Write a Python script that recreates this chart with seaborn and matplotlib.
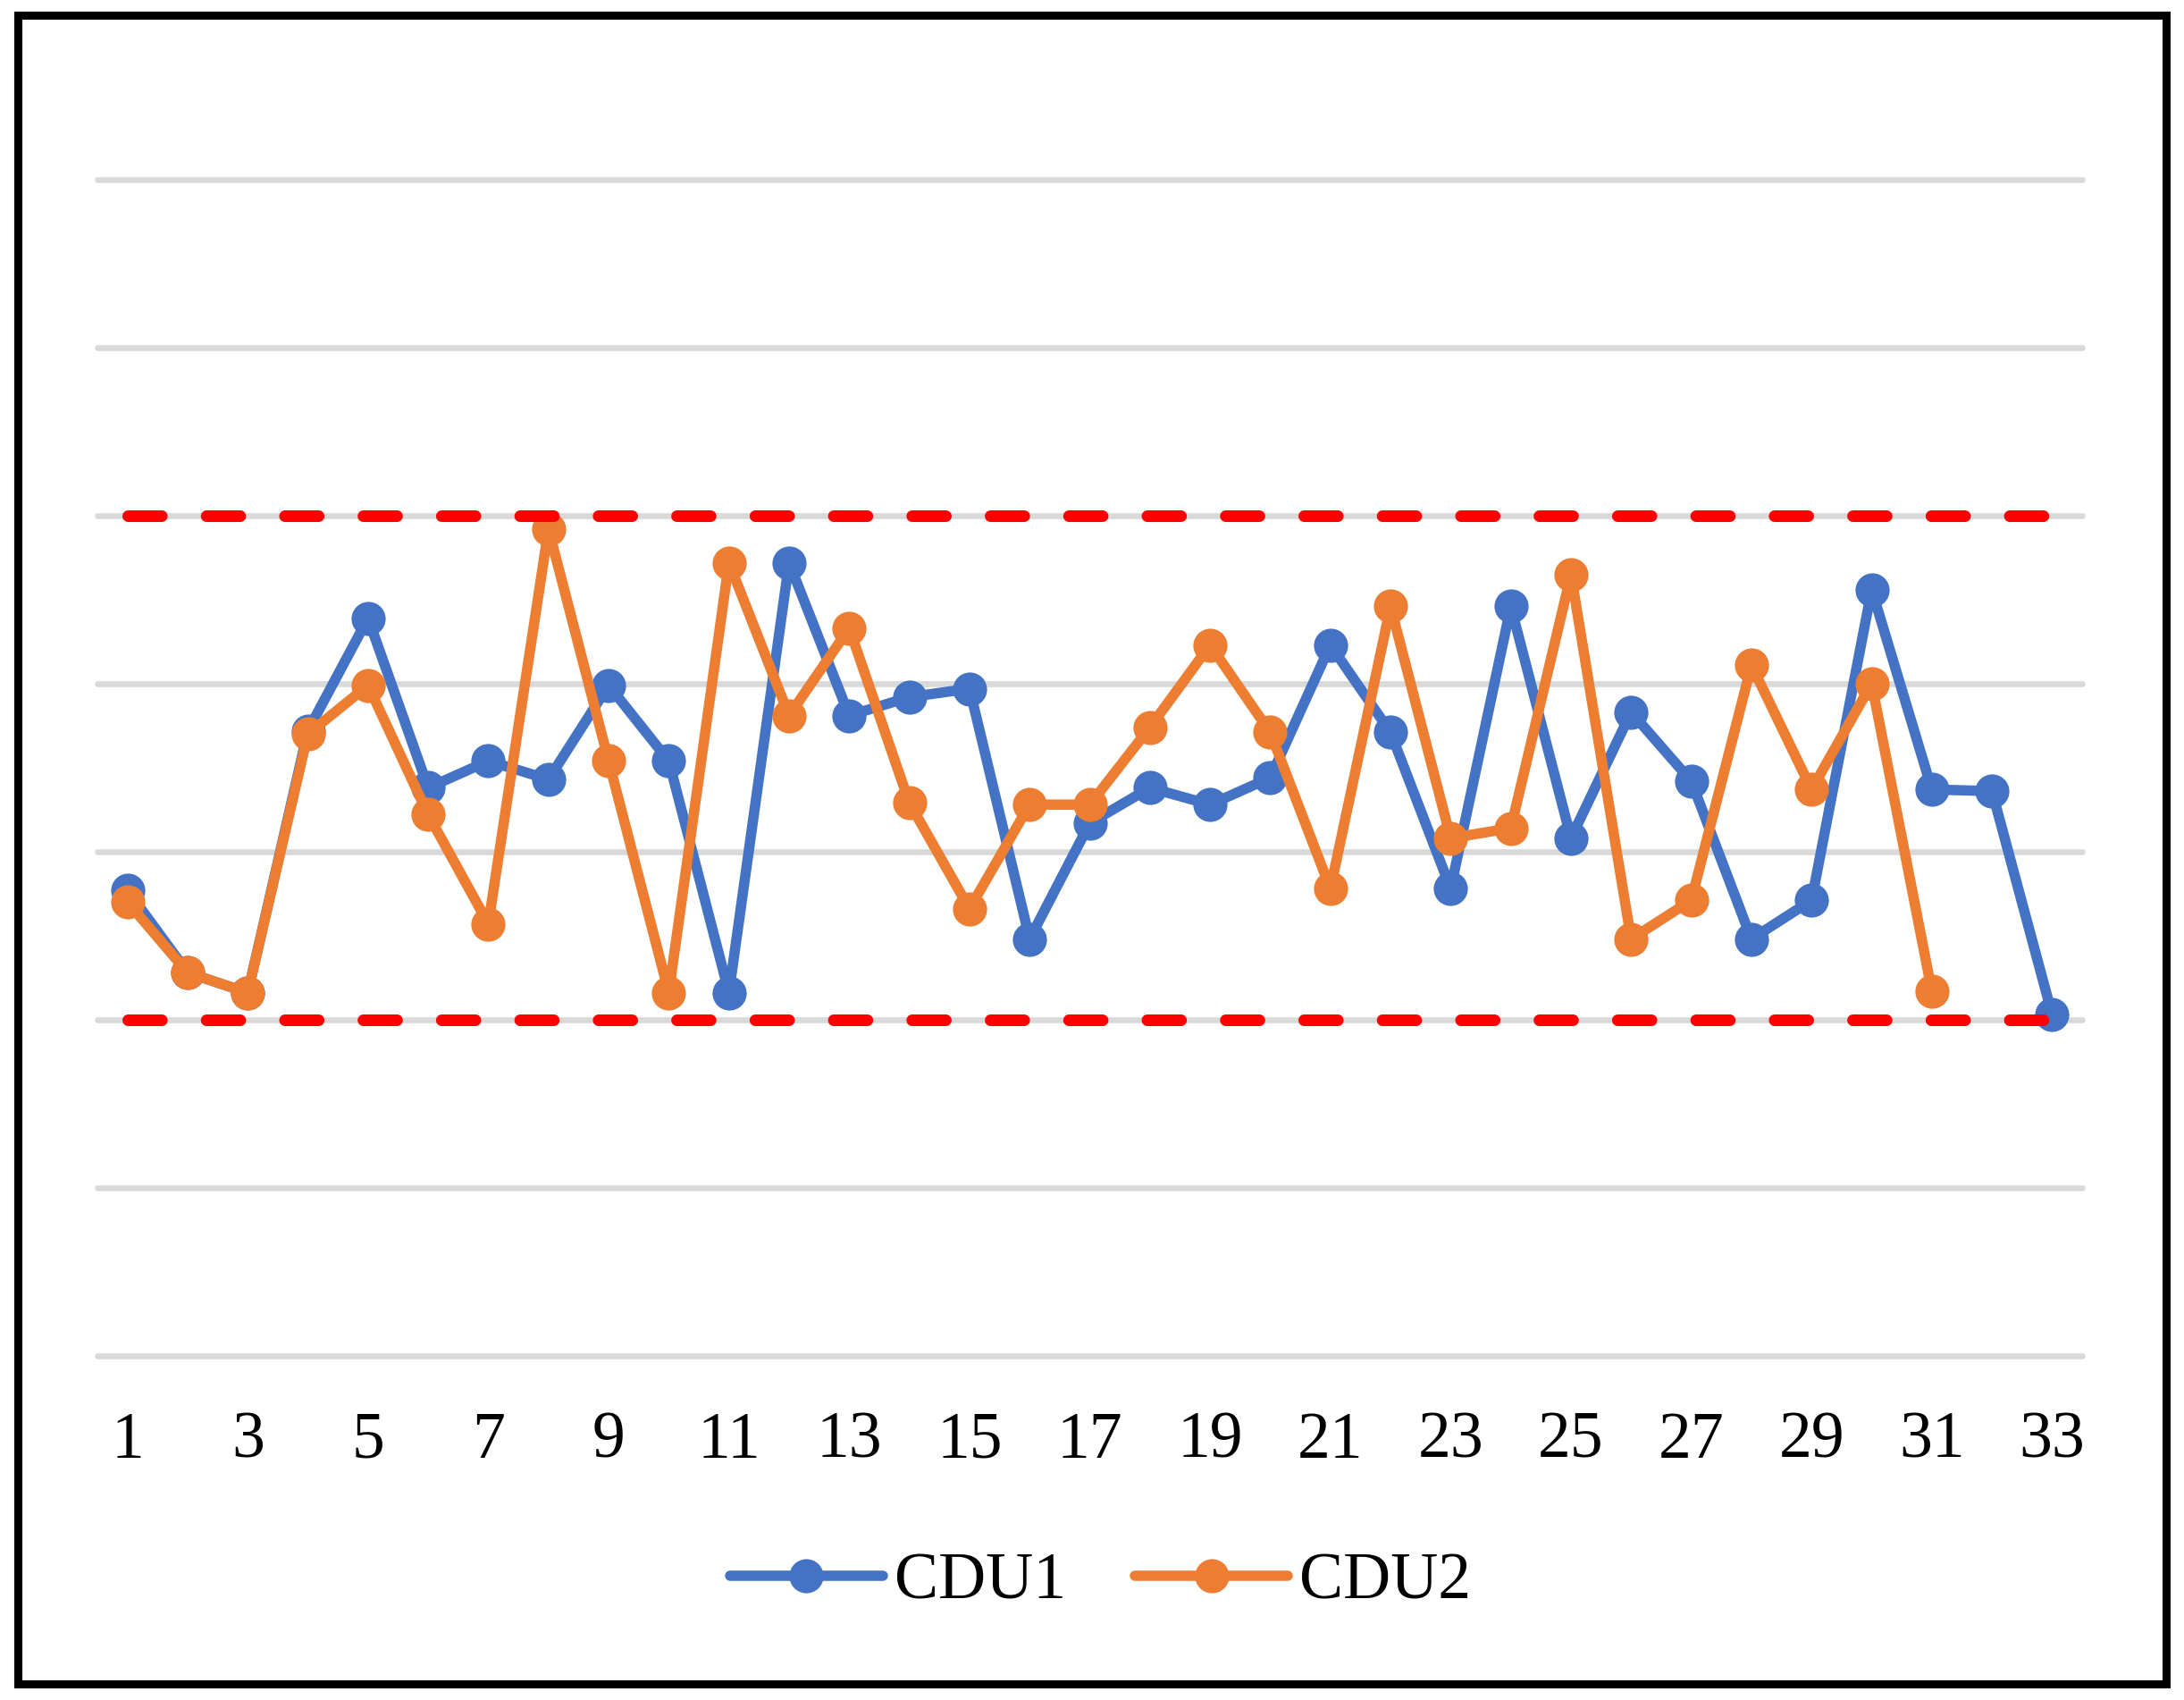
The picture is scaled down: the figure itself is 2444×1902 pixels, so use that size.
import numpy as np
import pandas as pd
import matplotlib
matplotlib.use('Agg')
from matplotlib import pyplot as plt
from matplotlib.patches import Rectangle
import seaborn as sns

sns.set_style('white')
plt.rcParams['font.family'] = ['Liberation Serif', 'DejaVu Serif']

# values (units = gridline steps)
samples = list(range(1, 34))
cdu1 = [2.77, 2.28, 2.16, 3.72, 4.39, 3.38, 3.54, 3.43, 3.99, 3.54,
        2.16, 4.72, 3.81, 3.92, 3.97, 2.48, 3.17, 3.38, 3.28, 3.44,
        4.23, 3.71, 2.78, 4.46, 3.08, 3.83, 3.42, 2.48, 2.71, 4.56,
        3.37, 3.36, 2.03]
cdu2 = [2.70, 2.28, 2.16, 3.70, 3.99, 3.22, 2.57, 4.92, 3.54, 2.16,
        4.72, 3.81, 4.33, 3.29, 2.66, 3.28, 3.28, 3.74, 4.23, 3.71,
        2.78, 4.46, 3.08, 3.14, 4.65, 2.48, 2.71, 4.11, 3.37, 4.00,
        2.17, np.nan, np.nan]
ucl = 5
lcl = 2
series_names = ['CDU1', 'CDU2']
colors = ['#4472C4', '#ED7D31']

df = pd.DataFrame({'sample': samples * 2,
                   'value': cdu1 + cdu2,
                   'unit': [series_names[0]] * len(samples) + [series_names[1]] * len(samples)})

fig = plt.figure(figsize=(24.44, 19.02), dpi=100)
ax = fig.add_axes([0.0446, 0.2026, 0.9088, 0.6917])

sns.lineplot(data=df, x='sample', y='value', hue='unit',
             palette=colors, hue_order=series_names,
             marker='o', markersize=27.5, markeredgewidth=0,
             linewidth=8.3, ax=ax, legend=False, zorder=3)

# control limits
for lim in [ucl, lcl]:
    ax.plot([samples[0], samples[-1]], [lim, lim], color='#FF0000',
            lw=9.4, dashes=(2.88, 3.84), dash_capstyle='round', zorder=5)

ax.set_xlim(0.5, 33.5)
ax.set_ylim(0, 7)
ax.set_yticks(range(0, 8))
ax.set_yticklabels([])
ax.set_xticks(samples[::2])
ax.set_xticklabels([str(s) for s in samples[::2]])
ax.tick_params(axis='x', length=0, pad=45, labelsize=53, labelcolor='black')
ax.tick_params(axis='y', length=0)
ax.set_xlabel('')
ax.set_ylabel('')
ax.yaxis.grid(True, color='#D9D9D9', lw=4.8)
ax.xaxis.grid(False)
ax.set_axisbelow(True)
for gl in ax.yaxis.get_gridlines():
    gl.set_clip_on(False)
for sp in ax.spines.values():
    sp.set_visible(False)

leg = ax.legend(handles=ax.lines[:2], labels=series_names, loc='center',
                bbox_to_anchor=(0.504, 0.069), bbox_transform=fig.transFigure,
                ncol=2, frameon=False, fontsize=53, handlelength=2.32,
                handletextpad=0.18, columnspacing=1.05)
for t in leg.get_texts():
    t.set_color('black')

fig.patches.append(Rectangle((19.5 / 2444, 1 - 1884 / 1902),
                             (2424 - 19.5) / 2444, (1884 - 16.5) / 1902,
                             fill=False, edgecolor='black', lw=6.5,
                             transform=fig.transFigure, figure=fig))

fig.savefig('out.png', dpi=100)
